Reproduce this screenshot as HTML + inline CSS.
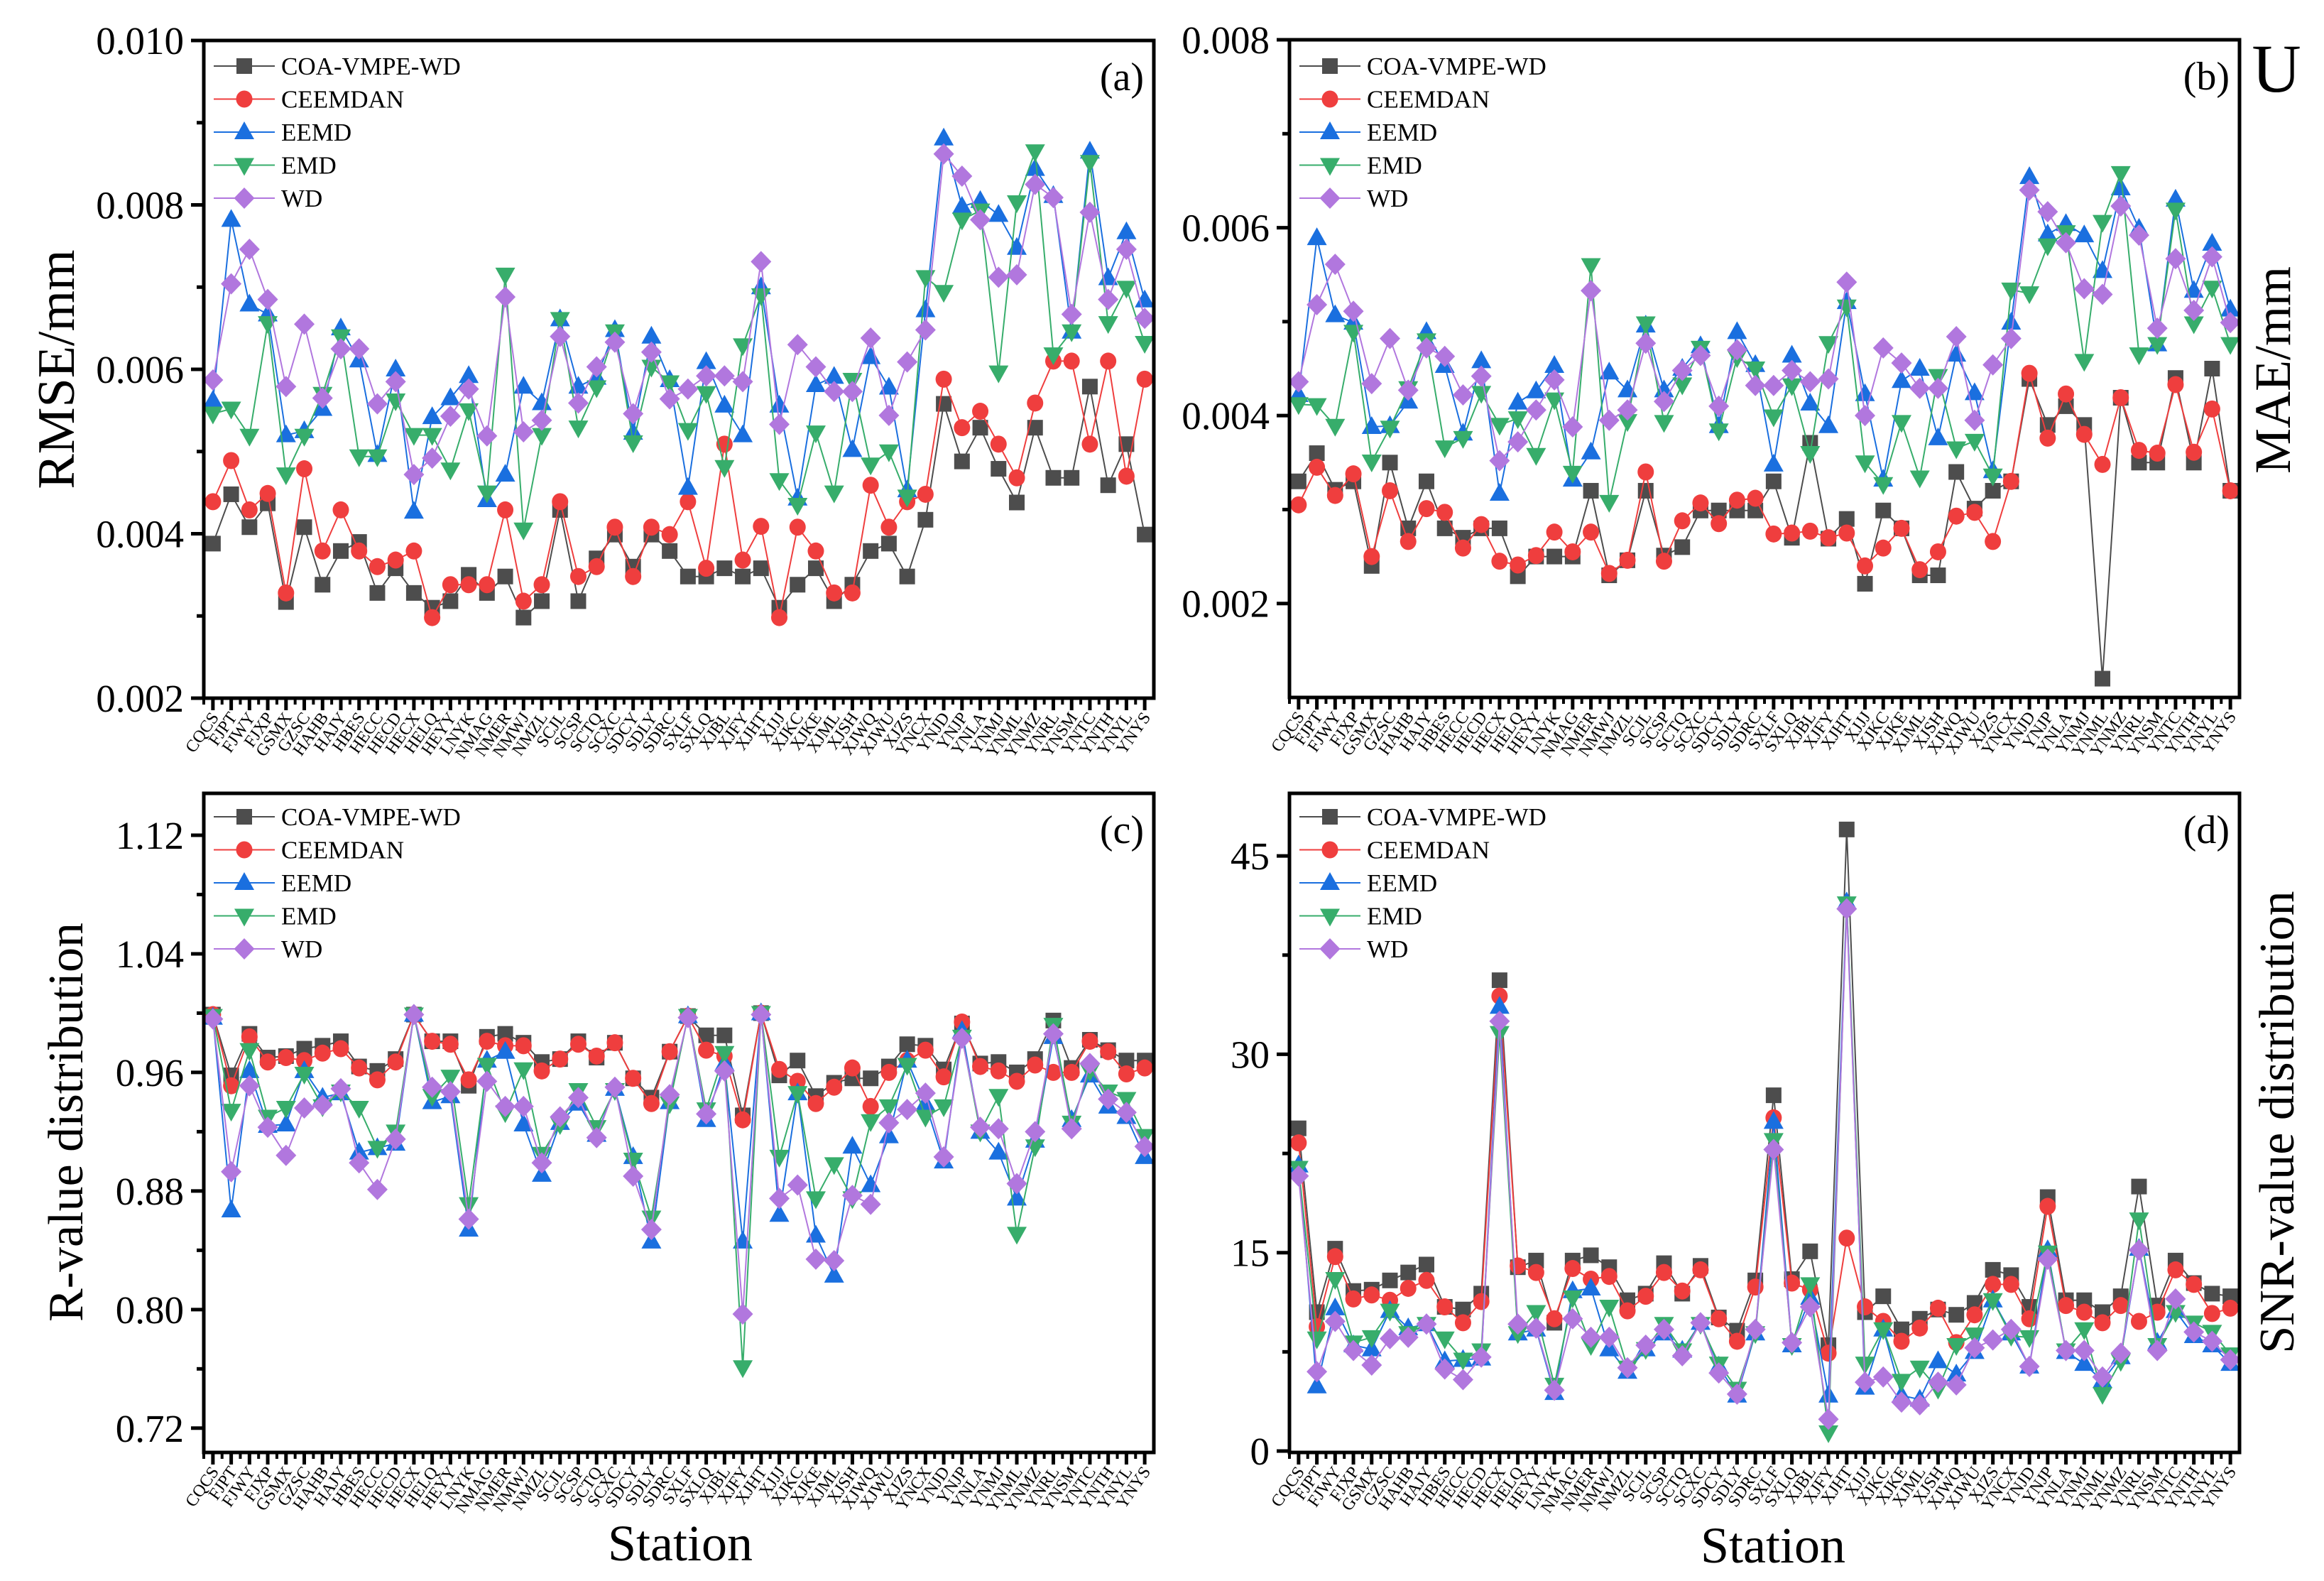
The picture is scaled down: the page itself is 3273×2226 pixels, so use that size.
<!DOCTYPE html>
<html><head><meta charset="utf-8">
<style>
html,body{margin:0;padding:0;background:#fff;}
svg{display:block;font-family:"Liberation Serif","DejaVu Serif",serif;}
</style></head>
<body>
<svg id="fig" xmlns="http://www.w3.org/2000/svg" width="3273" height="2226" viewBox="0 0 3273 2226"></svg>
<script>
const stations = ["CQCS","FJPT","FJWY","FJXP","GSMX","GZSC","HAHB","HAJY","HBES","HECC","HECD","HECX","HELQ","HEYY","LNYK","NMAG","NMER","NMWJ","NMZL","SCJL","SCSP","SCTQ","SCXC","SDCY","SDLY","SDRC","SXLF","SXLQ","XJBL","XJFY","XJHT","XJJJ","XJKC","XJKE","XJML","XJSH","XJWQ","XJWU","XJZS","YNCX","YNJD","YNJP","YNLA","YNMJ","YNML","YNMZ","YNRL","YNSM","YNTC","YNTH","YNYL","YNYS"];
const seriesNames = ["COA-VMPE-WD","CEEMDAN","EEMD","EMD","WD"];

// Panel (a) RMSE
const rmseCOA = [3.88e-3,4.48e-3,4.08e-3,4.37e-3,3.17e-3,4.08e-3,3.38e-3,3.79e-3,3.90e-3,3.28e-3,3.58e-3,3.28e-3,3.10e-3,3.18e-3,3.50e-3,3.28e-3,3.48e-3,2.98e-3,3.18e-3,4.29e-3,3.18e-3,3.70e-3,3.99e-3,3.60e-3,3.99e-3,3.79e-3,3.48e-3,3.48e-3,3.58e-3,3.48e-3,3.58e-3,3.10e-3,3.38e-3,3.58e-3,3.18e-3,3.38e-3,3.79e-3,3.88e-3,3.48e-3,4.17e-3,5.58e-3,4.88e-3,5.29e-3,4.79e-3,4.38e-3,5.29e-3,4.68e-3,4.68e-3,5.79e-3,4.59e-3,5.09e-3,3.99e-3];
const rmseCEEMDAN = [4.39e-3,4.89e-3,4.29e-3,4.49e-3,3.28e-3,4.79e-3,3.79e-3,4.29e-3,3.79e-3,3.60e-3,3.68e-3,3.79e-3,2.98e-3,3.38e-3,3.38e-3,3.38e-3,4.29e-3,3.18e-3,3.38e-3,4.39e-3,3.48e-3,3.60e-3,4.08e-3,3.48e-3,4.08e-3,3.99e-3,4.39e-3,3.58e-3,5.09e-3,3.68e-3,4.09e-3,2.98e-3,4.08e-3,3.79e-3,3.28e-3,3.28e-3,4.59e-3,4.08e-3,4.39e-3,4.48e-3,5.88e-3,5.29e-3,5.49e-3,5.09e-3,4.68e-3,5.59e-3,6.10e-3,6.10e-3,5.09e-3,6.10e-3,4.70e-3,5.88e-3];
const rmseEEMD = [5.62e-3,7.82e-3,6.79e-3,6.67e-3,5.20e-3,5.25e-3,5.52e-3,6.50e-3,6.11e-3,4.96e-3,6.00e-3,4.27e-3,5.42e-3,5.65e-3,5.92e-3,4.41e-3,4.72e-3,5.79e-3,5.59e-3,6.61e-3,5.79e-3,5.90e-3,6.48e-3,5.23e-3,6.40e-3,5.87e-3,4.56e-3,6.09e-3,5.56e-3,5.20e-3,7.00e-3,5.56e-3,4.43e-3,5.81e-3,5.91e-3,5.02e-3,6.15e-3,5.78e-3,4.53e-3,6.72e-3,8.81e-3,7.98e-3,8.05e-3,7.88e-3,7.48e-3,8.44e-3,8.11e-3,6.46e-3,8.65e-3,7.11e-3,7.67e-3,6.84e-3];
const rmseEMD = [5.46e-3,5.52e-3,5.19e-3,6.56e-3,4.72e-3,5.19e-3,5.70e-3,6.40e-3,4.94e-3,4.94e-3,5.62e-3,5.20e-3,5.20e-3,4.78e-3,5.50e-3,4.50e-3,7.15e-3,4.05e-3,5.20e-3,6.61e-3,5.29e-3,5.78e-3,6.46e-3,5.11e-3,6.03e-3,5.84e-3,5.26e-3,5.71e-3,4.81e-3,6.29e-3,6.90e-3,4.65e-3,4.35e-3,5.23e-3,4.50e-3,5.87e-3,4.84e-3,5.00e-3,4.45e-3,7.12e-3,6.94e-3,7.82e-3,7.93e-3,5.96e-3,8.03e-3,8.65e-3,6.18e-3,6.46e-3,8.52e-3,6.56e-3,6.99e-3,6.32e-3];
const rmseWD = [5.87e-3,7.04e-3,7.46e-3,6.85e-3,5.79e-3,6.55e-3,5.65e-3,6.25e-3,6.25e-3,5.58e-3,5.85e-3,4.72e-3,4.92e-3,5.43e-3,5.76e-3,5.19e-3,6.88e-3,5.24e-3,5.38e-3,6.40e-3,5.59e-3,6.03e-3,6.33e-3,5.46e-3,6.21e-3,5.64e-3,5.76e-3,5.92e-3,5.92e-3,5.85e-3,7.31e-3,5.33e-3,6.30e-3,6.03e-3,5.73e-3,5.73e-3,6.38e-3,5.44e-3,6.09e-3,6.48e-3,8.62e-3,8.35e-3,7.82e-3,7.12e-3,7.15e-3,8.25e-3,8.09e-3,6.67e-3,7.91e-3,6.85e-3,7.46e-3,6.62e-3];
const rmseTicks = ["0.002","0.004","0.006","0.008","0.010"];

// Panel (b) MAE
const maeCOA = [3.30e-3,3.60e-3,3.21e-3,3.30e-3,2.40e-3,3.50e-3,2.80e-3,3.30e-3,2.80e-3,2.70e-3,2.80e-3,2.80e-3,2.29e-3,2.50e-3,2.50e-3,2.50e-3,3.20e-3,2.30e-3,2.46e-3,3.20e-3,2.51e-3,2.60e-3,2.99e-3,2.99e-3,2.99e-3,2.99e-3,3.30e-3,2.70e-3,3.71e-3,2.69e-3,2.90e-3,2.21e-3,2.99e-3,2.80e-3,2.30e-3,2.30e-3,3.40e-3,3.01e-3,3.20e-3,3.30e-3,4.39e-3,3.90e-3,4.10e-3,3.90e-3,1.20e-3,4.19e-3,3.50e-3,3.50e-3,4.40e-3,3.50e-3,4.50e-3,3.20e-3];
const maeCEEMDAN = [3.05e-3,3.45e-3,3.15e-3,3.38e-3,2.50e-3,3.20e-3,2.66e-3,3.01e-3,2.97e-3,2.59e-3,2.84e-3,2.45e-3,2.41e-3,2.51e-3,2.76e-3,2.55e-3,2.76e-3,2.32e-3,2.46e-3,3.40e-3,2.45e-3,2.88e-3,3.07e-3,2.85e-3,3.10e-3,3.12e-3,2.74e-3,2.75e-3,2.77e-3,2.70e-3,2.75e-3,2.40e-3,2.59e-3,2.80e-3,2.36e-3,2.55e-3,2.93e-3,2.97e-3,2.66e-3,3.30e-3,4.45e-3,3.76e-3,4.23e-3,3.80e-3,3.48e-3,4.19e-3,3.63e-3,3.60e-3,4.33e-3,3.61e-3,4.07e-3,3.20e-3];
const maeEEMD = [4.22e-3,5.89e-3,5.07e-3,4.99e-3,3.88e-3,3.89e-3,4.15e-3,4.89e-3,4.53e-3,3.81e-3,4.58e-3,3.17e-3,4.14e-3,4.26e-3,4.53e-3,3.32e-3,3.61e-3,4.46e-3,4.27e-3,4.96e-3,4.27e-3,4.50e-3,4.74e-3,3.89e-3,4.89e-3,4.54e-3,3.48e-3,4.64e-3,4.13e-3,3.89e-3,5.21e-3,4.23e-3,3.32e-3,4.37e-3,4.50e-3,3.76e-3,4.65e-3,4.24e-3,3.41e-3,4.99e-3,6.54e-3,5.93e-3,6.04e-3,5.92e-3,5.54e-3,6.42e-3,5.99e-3,4.76e-3,6.30e-3,5.33e-3,5.83e-3,5.13e-3];
const maeEMD = [4.12e-3,4.11e-3,3.89e-3,4.89e-3,3.51e-3,3.87e-3,4.29e-3,4.80e-3,3.66e-3,3.76e-3,4.24e-3,3.90e-3,3.97e-3,3.58e-3,4.17e-3,3.39e-3,5.60e-3,3.08e-3,3.94e-3,4.98e-3,3.93e-3,4.33e-3,4.72e-3,3.84e-3,4.62e-3,4.50e-3,3.99e-3,4.32e-3,3.60e-3,4.77e-3,5.16e-3,3.50e-3,3.27e-3,3.93e-3,3.34e-3,4.42e-3,3.65e-3,3.73e-3,3.36e-3,5.34e-3,5.30e-3,5.81e-3,5.95e-3,4.58e-3,6.06e-3,6.58e-3,4.65e-3,4.76e-3,6.19e-3,4.98e-3,5.36e-3,4.76e-3];
const maeWD = [4.36e-3,5.18e-3,5.61e-3,5.11e-3,4.34e-3,4.82e-3,4.27e-3,4.72e-3,4.63e-3,4.22e-3,4.42e-3,3.52e-3,3.72e-3,4.06e-3,4.38e-3,3.88e-3,5.33e-3,3.95e-3,4.06e-3,4.77e-3,4.15e-3,4.48e-3,4.64e-3,4.10e-3,4.70e-3,4.32e-3,4.32e-3,4.48e-3,4.36e-3,4.39e-3,5.42e-3,4.00e-3,4.72e-3,4.56e-3,4.29e-3,4.29e-3,4.84e-3,3.95e-3,4.54e-3,4.82e-3,6.40e-3,6.17e-3,5.84e-3,5.35e-3,5.29e-3,6.23e-3,5.92e-3,4.93e-3,5.67e-3,5.12e-3,5.69e-3,4.99e-3];
const maeTicks = ["0.002","0.004","0.006","0.008"];

// Panel (c) R
const rCOA = [0.999,0.958,0.986,0.970,0.971,0.976,0.978,0.981,0.964,0.961,0.969,0.999,0.981,0.981,0.951,0.984,0.986,0.980,0.967,0.969,0.981,0.970,0.980,0.956,0.943,0.974,0.998,0.985,0.985,0.931,1.000,0.958,0.968,0.944,0.953,0.956,0.956,0.964,0.979,0.978,0.962,0.993,0.966,0.967,0.960,0.969,0.995,0.963,0.982,0.975,0.968,0.968];
const rCEEMDAN = [0.999,0.951,0.984,0.967,0.970,0.968,0.973,0.976,0.963,0.955,0.967,0.999,0.981,0.979,0.955,0.981,0.978,0.978,0.961,0.969,0.979,0.971,0.980,0.956,0.939,0.974,0.998,0.975,0.971,0.928,1.000,0.962,0.954,0.939,0.950,0.963,0.937,0.960,0.968,0.975,0.957,0.994,0.964,0.961,0.954,0.965,0.960,0.960,0.981,0.974,0.959,0.963];
const rEEMD = [0.997,0.867,0.961,0.924,0.925,0.961,0.943,0.946,0.906,0.909,0.912,0.999,0.940,0.944,0.854,0.968,0.974,0.925,0.891,0.926,0.939,0.918,0.949,0.903,0.846,0.940,0.998,0.928,0.966,0.846,1.000,0.864,0.946,0.850,0.823,0.910,0.884,0.917,0.968,0.939,0.900,0.988,0.920,0.906,0.875,0.914,0.984,0.928,0.958,0.937,0.930,0.903];
const rEMD = [0.998,0.934,0.975,0.930,0.936,0.959,0.937,0.947,0.936,0.909,0.920,0.999,0.944,0.957,0.871,0.965,0.933,0.962,0.905,0.925,0.948,0.923,0.948,0.901,0.862,0.939,0.998,0.935,0.973,0.761,1.000,0.903,0.946,0.875,0.898,0.875,0.927,0.937,0.965,0.930,0.937,0.984,0.920,0.944,0.851,0.910,0.992,0.926,0.961,0.947,0.942,0.917];
const rWD = [0.996,0.893,0.951,0.923,0.904,0.936,0.938,0.949,0.899,0.881,0.915,0.999,0.950,0.947,0.861,0.954,0.937,0.937,0.899,0.930,0.943,0.916,0.950,0.890,0.854,0.945,0.997,0.932,0.961,0.797,0.999,0.875,0.884,0.834,0.833,0.877,0.871,0.926,0.935,0.946,0.903,0.983,0.923,0.922,0.885,0.920,0.986,0.922,0.966,0.942,0.933,0.910];
const rTicks = ["0.72","0.80","0.88","0.96","1.04","1.12"];

// Panel (d) SNR
const snrCOA = [24.4,10.5,15.3,12.1,12.2,12.9,13.5,14.1,10.9,10.7,11.9,35.6,13.9,14.4,9.7,14.4,14.8,13.9,11.4,11.9,14.2,11.9,14.0,10.1,9.1,12.9,26.9,13.0,15.1,8.0,47.0,10.5,11.7,9.2,10.0,10.7,10.3,11.2,13.7,13.3,10.9,19.2,11.4,11.4,10.5,11.7,20.0,11.0,14.4,12.7,11.9,11.7];
const snrCEEMDAN = [23.3,9.4,14.7,11.5,11.8,11.4,12.3,12.9,10.9,9.7,11.3,34.4,14.0,13.5,10.0,13.8,13.0,13.2,10.6,11.7,13.5,12.1,13.7,10.0,8.3,12.4,25.2,12.7,12.2,7.4,16.1,10.9,9.8,8.3,9.3,10.8,8.2,10.3,12.6,12.6,10.0,18.5,11.0,10.5,9.7,11.0,9.8,10.5,13.7,12.6,10.4,10.8];
const snrEEMD = [21.6,4.9,10.8,8.0,7.7,10.6,9.3,9.6,6.8,6.9,7.0,33.6,8.9,9.2,4.4,12.1,12.3,7.7,6.0,7.7,8.9,7.6,9.7,6.4,4.2,8.9,24.9,8.0,11.6,4.2,41.5,4.8,9.2,4.2,3.9,6.8,5.8,7.5,11.4,8.9,6.4,15.2,7.5,6.6,5.3,7.1,15.3,8.2,10.6,8.7,8.0,6.6];
const snrEMD = [21.4,8.5,13.0,8.2,8.6,10.6,8.9,9.6,8.5,6.9,7.6,31.6,8.9,10.5,5.0,11.6,8.0,10.9,6.3,7.7,9.6,7.6,9.6,6.6,4.7,8.9,23.5,8.0,12.6,1.4,41.4,6.6,9.2,5.3,6.3,4.7,8.0,8.8,11.4,8.7,8.6,15.0,7.6,9.2,4.3,6.8,17.5,8.0,10.5,9.7,9.0,7.3];
const snrWD = [20.8,6.0,9.8,7.6,6.5,8.5,8.6,9.6,6.2,5.4,7.1,32.5,9.6,9.3,4.6,10.0,8.6,8.6,6.3,8.0,9.2,7.2,9.7,5.9,4.3,9.2,22.8,8.2,10.9,2.4,41.0,5.2,5.6,3.7,3.5,5.2,5.0,7.8,8.4,9.2,6.4,14.5,7.6,7.6,5.6,7.4,15.2,7.6,11.5,9.0,8.3,6.9];
const snrTicks = ["0","15","30","45"];

const colors = ["#4d4d4d","#ef3e3e","#1a6fdf","#37ad6b","#b177de"];
const NS = "http://www.w3.org/2000/svg";
const svg = document.getElementById("fig");

function el(tag, attrs, parent, text){
  const e = document.createElementNS(NS, tag);
  for (const k in attrs) e.setAttribute(k, attrs[k]);
  if (text !== undefined) e.textContent = text;
  (parent || svg).appendChild(e);
  return e;
}

function marker(g, kind, x, y, color){
  let m;
  if (kind === 0) m = el("rect", {x:x-11, y:y-11, width:22, height:22, fill:color}, g);
  else if (kind === 1) m = el("ellipse", {cx:x, cy:y, rx:11.5, ry:12, fill:color}, g);
  else if (kind === 2) m = el("polygon", {points:`${x},${y-15} ${x+14},${y+10} ${x-14},${y+10}`, fill:color}, g);
  else if (kind === 3) m = el("polygon", {points:`${x},${y+15} ${x+14},${y-10} ${x-14},${y-10}`, fill:color}, g);
  else m = el("polygon", {points:`${x},${y-15} ${x+14.5},${y} ${x},${y+15} ${x-14.5},${y}`, fill:color}, g);
  return m;
}

function panel(cfg){
  const g = el("g", {});
  
  
  const L = cfg.left, R = cfg.right, T = cfg.top, B = cfg.bottom;
  const n = stations.length;
  const step = (R - L) / n;
  const xs = i => L + (i + 0.5) * step;
  const ys = v => cfg.y0 + (v - cfg.v0) * cfg.k;

  // series
  cfg.series.forEach((arr, s) => {
    const sg = el("g", {}, g);
    
    
    const pts = arr.map((v, i) => xs(i).toFixed(1) + "," + ys(v).toFixed(1)).join(" ");
    const pl = el("polyline", {points:pts, fill:"none", stroke:colors[s], "stroke-width":2}, sg);
    
    
    arr.forEach((v, i) => {
      const m = marker(sg, s, xs(i), ys(v), colors[s]);
      
      
    });
  });

  // frame
  const fr = el("rect", {x:L, y:T, width:R-L, height:B-T, fill:"none", stroke:"#000", "stroke-width":5}, g);
  
  

  // y ticks
  cfg.ticks.forEach((t, i) => {
    const v = parseFloat(t);
    const y = ys(v);
    el("line", {x1:L-18, x2:L, y1:y, y2:y, stroke:"#000", "stroke-width":5}, g);
    const lab = el("text", {x:L-28, y:y+19, "font-size":55, "text-anchor":"end"}, g, t);
    
    
    if (i < cfg.ticks.length) {
      const mv = v + cfg.minor;
      const my = ys(mv);
      if (my > T + 2 && my < B - 2) el("line", {x1:L-10, x2:L, y1:my, y2:my, stroke:"#000", "stroke-width":5}, g);
      const mv2 = v - cfg.minor;
      const my2 = ys(mv2);
      if (i === 0 && my2 > T + 2 && my2 < B - 2) el("line", {x1:L-10, x2:L, y1:my2, y2:my2, stroke:"#000", "stroke-width":5}, g);
    }
  });

  // x ticks + labels
  for (let i = 0; i < n; i++) {
    const x = xs(i);
    el("line", {x1:x, x2:x, y1:B, y2:B+17, stroke:"#000", "stroke-width":5}, g);
    el("line", {x1:L+i*step, x2:L+i*step, y1:B, y2:B+9, stroke:"#000", "stroke-width":4}, g);
    const tl = el("text", {x:0, y:0, "font-size":24, "text-anchor":"end", transform:`translate(${x+9},${B+27}) rotate(-55)`}, g, stations[i]);
    
    
  }

  // legend
  const lg = el("g", {}, g);
  
  
  seriesNames.forEach((nm, s) => {
    const y = cfg.legY + s * 46.5;
    const eg = el("g", {}, lg);
    
    
    el("line", {x1:L+14, x2:L+100, y1:y, y2:y, stroke:colors[s], "stroke-width":2}, eg);
    marker(eg, s, L+57, y, colors[s]);
    el("text", {x:L+109, y:y+12, "font-size":35}, eg, nm);
  });

  // panel letter
  const pl = el("text", {x:R-14, y:T+70, "font-size":56, "text-anchor":"end"}, g, cfg.letter);
  
  
}

const KA = (983 - 57) / 0.008;
panel({id:"a", name:"rmse-panel", letter:"(a)", left:287, right:1625, top:57, bottom:983,
  v0:0.002, y0:983, k:-KA, ticks:rmseTicks, minor:0.001, legY:93,
  series:[rmseCOA, rmseCEEMDAN, rmseEEMD, rmseEMD, rmseWD]});
const KB = (982 - 56) / 0.007;
panel({id:"b", name:"mae-panel", letter:"(b)", left:1816, right:3154, top:56, bottom:982,
  v0:0.001, y0:982, k:-KB, ticks:maeTicks, minor:0.001, legY:93,
  series:[maeCOA, maeCEEMDAN, maeEEMD, maeEMD, maeWD]});
panel({id:"c", name:"r-value-panel", letter:"(c)", left:287, right:1625, top:1117, bottom:2045,
  v0:1.12, y0:1176, k:-2087, ticks:rTicks, minor:0.04, legY:1150,
  series:[rCOA, rCEEMDAN, rEEMD, rEMD, rWD]});
panel({id:"d", name:"snr-panel", letter:"(d)", left:1816, right:3154, top:1117, bottom:2045,
  v0:0, y0:2043, k:-18.62, ticks:snrTicks, minor:7.5, legY:1150,
  series:[snrCOA, snrCEEMDAN, snrEEMD, snrEMD, snrWD]});

// axis titles
function title(txt, x, y, rot, size, name){
  const t = el("text", {x:0, y:0, "font-size":size, "text-anchor":"middle", transform:`translate(${x},${y}) rotate(${rot})`}, svg, txt);
  
  
}
title("RMSE/mm", 104, 520, -90, 74, "y-axis-title-rmse");
title("MAE/mm", 3225, 521, -90, 72, "y-axis-title-mae");
title("R-value distribution", 116, 1580, -90, 70, "y-axis-title-r");
title("SNR-value distribution", 3230, 1580, -90, 70, "y-axis-title-snr");
title("Station", 958, 2197, 0, 72, "x-axis-title-left");
title("Station", 2497, 2200, 0, 72, "x-axis-title-right");
const u = el("text", {x:3206, y:129, "font-size":96, "text-anchor":"middle"}, svg, "U");


</script>
</body></html>
